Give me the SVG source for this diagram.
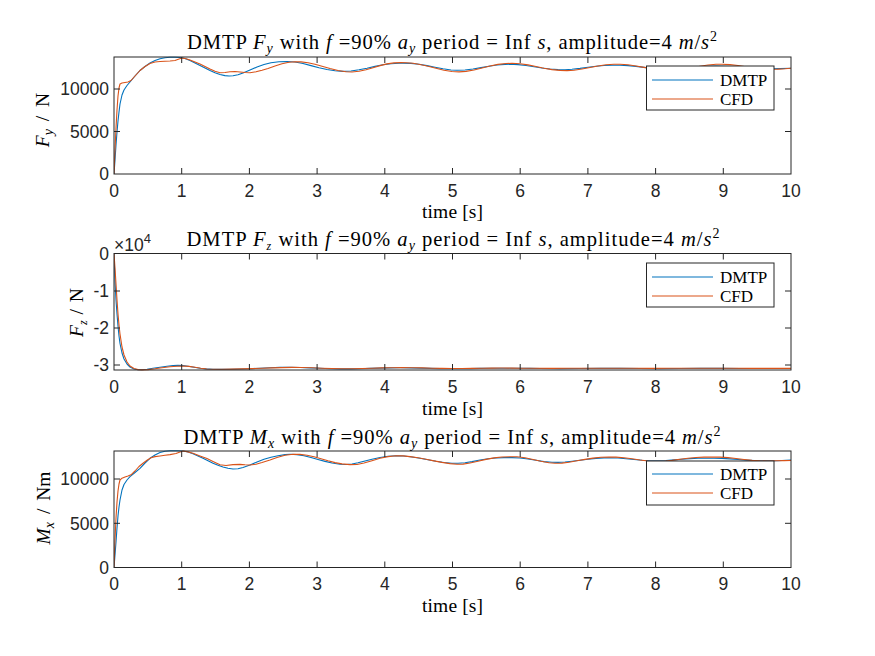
<svg xmlns="http://www.w3.org/2000/svg" width="875" height="656" viewBox="0 0 875 656">
<style>
.bg{fill:#ffffff}
.box{fill:none;stroke:#262626;stroke-width:1}
.tk{stroke:#262626;stroke-width:1;fill:none}
.tl{font-family:"Liberation Sans",Arial,sans-serif;font-size:17.5px;fill:#262626}
.tx{text-anchor:middle}
.ty{text-anchor:end}
.ser{font-family:"Liberation Serif","Times New Roman",serif;fill:#000000}
.title{font-size:20.6px}
.lab{font-size:19.5px}
.leg{font-size:17px}
.it{font-style:italic}
.sub{font-size:14px;font-style:italic}
.sup{font-size:14px}
.blue{fill:none;stroke:#0072BD;stroke-width:1.1;stroke-linejoin:round}
.orange{fill:none;stroke:#D95319;stroke-width:1.1;stroke-linejoin:round}
.lbox{fill:#ffffff;stroke:#262626;stroke-width:1}
</style>
<defs>
<clipPath id="c1"><rect x="114" y="56" width="677" height="119"/></clipPath>
<clipPath id="c2"><rect x="114" y="253" width="677" height="118"/></clipPath>
<clipPath id="c3"><rect x="114" y="450" width="677" height="118"/></clipPath>
</defs>
<rect class="bg" x="0" y="0" width="875" height="656"/>

<g id="axes1">
<rect x="114" y="57" width="677" height="117" fill="#ffffff"/>
<g clip-path="url(#c1)">
<polyline class="blue" points="114,174 115,160 116,145 117,132 118,121 119,112 120,104 122,95 124,90 127,85.5 130,82 135,76 140,70.5 145,66.5 150,63 155,60.5 160,58.8 165,57.8 170,57.3 175,57.2 180,57.5 185,58.5 190,60.5 195,63 200,65.5 205,68 210,70.5 215,72.8 220,74.5 225,75.6 229,76 233,75.7 238,74.7 243,73 250,70 257,67 264,64.5 271,62.8 279,61.8 287,61.5 295,62 303,63.5 311,65.6 319,67.7 327,69.5 335,70.8 343,71.4 351,71 359,69.8 367,68.2 375,66.4 383,64.8 391,63.7 399,63.2 403,63.1 411,63.4 419,64.3 427,65.6 435,67.2 443,68.8 451,70 457,70.3 465,70 473,69 481,67.6 489,66.2 497,65 505,64.4 510,64.3 518,64.6 526,65.5 534,66.8 542,68 550,69 558,69.6 565,69.7 572,69.3 580,68.4 588,67.3 596,66.2 604,65.5 612,65.2 620,65.2 628,65.6 636,66.4 644,67.4 652,68.3 660,68.9 668,69.1 676,68.9 684,68.3 692,67.5 700,66.8 708,66.3 716,66.1 724,66.2 732,66.6 740,67.2 748,67.8 756,68.3 764,68.6 772,68.7 780,68.6 791,68.3"/>
<polyline class="orange" points="114,174 115,150 116,128 117,110 118,96 119,88 120,84 122,83 125,82.5 128,82 131,80.5 135,76 140,70.5 145,66.5 150,63.5 155,62 160,61.5 165,61.2 170,61 175,60.5 179,59 182,58 186,58.8 190,60 195,62 200,64 205,66.5 210,69 215,71.2 220,72.7 225,72.5 230,71.8 235,71.5 240,72 245,72.5 250,72.7 256,71.8 262,70.3 268,68.5 275,66 282,63.8 289,62.2 295,61.7 301,61.9 308,62.8 315,64.3 322,66.2 330,68.5 338,70.5 346,71.8 352,72 359,71.3 366,69.7 373,67.7 380,65.6 387,63.9 394,62.9 401,62.6 406,62.7 413,63.3 420,64.5 428,66.3 436,68.3 444,70.2 452,71.5 459,71.9 466,71.4 474,70 482,68 490,66 498,64.4 506,63.5 512,63.3 520,63.7 528,64.9 536,66.5 544,68.2 552,69.6 560,70.4 567,70.6 574,70.2 582,69 590,67.5 598,66 606,64.8 614,64.2 620,64.2 628,64.8 636,66 644,67.4 652,68.8 660,69.8 668,70.2 676,70 684,69.1 692,67.8 700,66.3 708,65 716,64.3 722,64.2 730,64.6 738,65.5 746,66.7 754,67.9 762,68.8 770,69.2 778,69.1 785,68.7 791,68.2"/>
</g>
<rect class="box" x="114" y="57" width="677" height="117"/>
<path class="tk" d="M181.7,174v-6M249.4,174v-6M317.1,174v-6M384.8,174v-6M452.5,174v-6M520.2,174v-6M587.9,174v-6M655.6,174v-6M723.3,174v-6M181.7,57v6M249.4,57v6M317.1,57v6M384.8,57v6M452.5,57v6M520.2,57v6M587.9,57v6M655.6,57v6M723.3,57v6M114,131.5h6M114,89h6M791,131.5h-6M791,89h-6"/>
<g class="tl tx">
<text x="114" y="196.5">0</text><text x="181.7" y="196.5">1</text><text x="249.4" y="196.5">2</text><text x="317.1" y="196.5">3</text><text x="384.8" y="196.5">4</text><text x="452.5" y="196.5">5</text><text x="520.2" y="196.5">6</text><text x="587.9" y="196.5">7</text><text x="655.6" y="196.5">8</text><text x="723.3" y="196.5">9</text><text x="791" y="196.5">10</text>
</g>
<g class="tl ty">
<text x="109" y="180.3">0</text><text x="109" y="137.8">5000</text><text x="109" y="95.3">10000</text>
</g>
<text class="ser lab" x="452.5" y="218" text-anchor="middle" textLength="61" lengthAdjust="spacing">time [s]</text>
<text class="ser lab" transform="translate(49,120) rotate(-90)" text-anchor="middle"><tspan class="it">F</tspan><tspan class="sub" dy="4">y</tspan><tspan dy="-4" dx="3"> /</tspan><tspan dx="4"> N</tspan></text>
<text class="ser title" x="452" y="49" text-anchor="middle" textLength="530" lengthAdjust="spacing">DMTP <tspan class="it">F</tspan><tspan class="sub" dy="4">y</tspan><tspan dy="-4"> with </tspan><tspan class="it">f</tspan> =90% <tspan class="it">a</tspan><tspan class="sub" dy="4">y</tspan><tspan dy="-4"> period = Inf </tspan><tspan class="it">s</tspan>, amplitude=4 <tspan class="it">m</tspan>/<tspan class="it">s</tspan><tspan class="sup" dy="-8">2</tspan></text>
<g id="legend1">
<rect class="lbox" x="646.5" y="66" width="127.5" height="44"/>
<line class="blue" x1="652" y1="80" x2="713" y2="80"/>
<line class="orange" x1="652" y1="99" x2="713" y2="99"/>
<text class="ser leg" x="720" y="85.5">DMTP</text>
<text class="ser leg" x="720" y="104.5">CFD</text>
</g>
</g>

<g id="axes2">
<rect x="114" y="253.5" width="677" height="116.5" fill="#ffffff"/>
<g clip-path="url(#c2)">
<polyline class="blue" points="114,253.5 114.6,270 115.2,285 116,300 117,314 118,326 119,336 120,343.5 122,353 124,359 127,364 130,367 134,369 138,369.8 142,369.8 147,369.2 153,368.3 160,367.2 167,366.2 173,365.6 178,365.4 183,365.6 188,366.2 194,367.2 200,368.2 206,368.9 213,369.3 220,369.4 230,369.3 240,369 250,368.7 260,368.2 270,367.8 280,367.4 290,367.3 300,367.5 310,367.9 320,368.3 330,368.7 340,368.9 350,368.9 360,368.7 370,368.4 380,368.1 390,367.9 400,367.8 410,367.9 420,368.1 430,368.4 440,368.6 450,368.7 460,368.7 470,368.6 480,368.4 490,368.3 500,368.2 510,368.2 520,368.3 530,368.4 540,368.5 560,368.6 580,368.5 600,368.4 620,368.4 640,368.5 660,368.6 680,368.5 700,368.4 720,368.4 740,368.5 760,368.5 791,368.5"/>
<polyline class="orange" points="114,253.5 115,268 116,284 117,300 118,314 119,325 120,334 122,347 124,355 127,362 130,366 134,368.5 138,369.6 142,369.9 148,369.6 155,368.8 162,367.8 170,366.8 177,366.2 183,366 189,366.4 195,367.3 201,368.3 207,369 214,369.3 222,369.3 232,369.1 242,368.9 252,368.6 262,368.2 272,367.9 282,367.6 292,367.4 302,367.5 312,367.8 322,368.2 332,368.5 342,368.7 352,368.7 362,368.5 372,368.2 382,367.9 392,367.7 402,367.6 412,367.7 422,367.9 432,368.2 442,368.4 452,368.5 462,368.5 472,368.4 482,368.2 492,368.1 502,368 512,368.1 522,368.2 532,368.3 552,368.4 572,368.3 592,368.2 612,368.2 632,368.3 652,368.4 672,368.3 692,368.2 712,368.2 732,368.3 752,368.4 791,368.4"/>
</g>
<rect class="box" x="114" y="253.5" width="677" height="116.5"/>
<path class="tk" d="M181.7,370v-6M249.4,370v-6M317.1,370v-6M384.8,370v-6M452.5,370v-6M520.2,370v-6M587.9,370v-6M655.6,370v-6M723.3,370v-6M181.7,253.5v6M249.4,253.5v6M317.1,253.5v6M384.8,253.5v6M452.5,253.5v6M520.2,253.5v6M587.9,253.5v6M655.6,253.5v6M723.3,253.5v6M114,291h6M114,328h6M114,365h6M791,291h-6M791,328h-6M791,365h-6"/>
<g class="tl tx">
<text x="114" y="393">0</text><text x="181.7" y="393">1</text><text x="249.4" y="393">2</text><text x="317.1" y="393">3</text><text x="384.8" y="393">4</text><text x="452.5" y="393">5</text><text x="520.2" y="393">6</text><text x="587.9" y="393">7</text><text x="655.6" y="393">8</text><text x="723.3" y="393">9</text><text x="791" y="393">10</text>
</g>
<g class="tl ty">
<text x="109" y="260">0</text><text x="109" y="297.3">-1</text><text x="109" y="334.3">-2</text><text x="109" y="371.3">-3</text>
</g>
<text class="tl" x="114" y="251">×10<tspan font-size="13" dy="-8">4</tspan></text>
<text class="ser lab" x="452.5" y="414.5" text-anchor="middle" textLength="61" lengthAdjust="spacing">time [s]</text>
<text class="ser lab" transform="translate(83,312.5) rotate(-90)" text-anchor="middle"><tspan class="it">F</tspan><tspan class="sub" dy="4" style="font-size:12px">z</tspan><tspan dy="-4" dx="1"> /</tspan><tspan dx="2"> N</tspan></text>
<text class="ser title" x="453" y="246" text-anchor="middle" textLength="533" lengthAdjust="spacing">DMTP <tspan class="it">F</tspan><tspan class="sub" dy="4" style="font-size:12px">z</tspan><tspan dy="-4"> with </tspan><tspan class="it">f</tspan> =90% <tspan class="it">a</tspan><tspan class="sub" dy="4">y</tspan><tspan dy="-4"> period = Inf </tspan><tspan class="it">s</tspan>, amplitude=4 <tspan class="it">m</tspan>/<tspan class="it">s</tspan><tspan class="sup" dy="-8">2</tspan></text>
<g id="legend2">
<rect class="lbox" x="646.5" y="263" width="127.5" height="44"/>
<line class="blue" x1="652" y1="277" x2="713" y2="277"/>
<line class="orange" x1="652" y1="296" x2="713" y2="296"/>
<text class="ser leg" x="720" y="282.5">DMTP</text>
<text class="ser leg" x="720" y="301.5">CFD</text>
</g>
</g>

<g id="axes3">
<rect x="114" y="451" width="677" height="116.5" fill="#ffffff"/>
<g clip-path="url(#c3)">
<polyline class="blue" points="114,567.5 115,555 116,542 117,528 118,516 119,507 120,500 122,490 124,484.5 127,480 130,476.7 135,472.5 140,468.3 145,463 150,458.3 155,455 160,452.5 165,451.3 170,450.8 177,450.7 183,451 188,452 193,453.8 198,456 203,458.3 208,460.8 213,463.2 218,465.2 223,467 228,468.3 233,469 238,468.7 243,467.5 250,465 257,462 264,459.3 271,457.3 278,455.7 285,454.6 290,454.3 297,454.6 304,455.8 311,457.5 318,459.5 325,461.4 332,463 340,464.2 346,464.5 352,464 358,462.8 365,461 372,459.2 380,457.5 388,456.2 396,455.7 404,456 412,457 420,458.3 428,459.8 436,461.3 444,462.5 452,463.2 458,463.3 465,462.8 472,461.6 480,460 488,458.8 496,458 504,457.6 512,457.6 520,458 528,459 536,460.3 544,461.6 552,462.3 558,462.4 565,462 572,461.2 580,460.2 588,459.2 596,458.4 604,457.9 610,457.8 618,458 626,458.7 634,459.5 642,460.2 650,460.7 658,460.8 666,460.5 674,459.9 682,459.2 690,458.6 698,458.3 706,458.2 714,458.2 722,458.4 730,458.9 738,459.5 746,460.1 754,460.6 762,460.9 770,460.9 778,460.7 786,460.3 791,460"/>
<polyline class="orange" points="114,567.5 115,540 116,518 117,502 118,491 119,484 120,480 122,478.2 125,477 128,476 131,474.8 135,471 139,466.5 143,463.3 147,460.3 151,457.8 155,456.6 160,456 165,455.3 170,454.6 176,453.5 180,452 183,451 187,451.6 193,453.3 200,456 207,458.6 213,461.5 220,464.8 226,465.5 233,464.6 240,464.4 245,464.8 250,465 256,464.2 262,462.5 270,460 277,457.5 285,455.3 293,454.3 300,454.4 307,455.2 314,456.8 321,458.8 328,460.8 335,462.6 342,463.9 350,464.6 357,464.5 364,463 372,460.7 380,458.3 388,456.6 396,455.8 403,455.9 410,456.6 418,457.8 426,459.3 434,460.9 442,462.4 450,463.6 457,464.3 463,464.1 470,463 478,461.2 486,459.4 494,457.9 502,457 510,456.7 517,456.8 525,457.8 533,459.5 541,461.3 549,462.7 555,463.3 562,463.1 569,462.2 577,460.8 585,459.4 593,458.1 601,457.3 609,457 616,457.1 624,457.7 632,458.7 640,460 648,461 656,461.4 664,461.2 672,460.4 680,459.3 688,458.3 696,457.5 704,457.1 712,457 720,457.1 728,457.6 736,458.5 744,459.5 752,460.4 760,460.9 768,461 776,460.8 784,460.6 791,460.5"/>
</g>
<rect class="box" x="114" y="451" width="677" height="116.5"/>
<path class="tk" d="M181.7,567.5v-6M249.4,567.5v-6M317.1,567.5v-6M384.8,567.5v-6M452.5,567.5v-6M520.2,567.5v-6M587.9,567.5v-6M655.6,567.5v-6M723.3,567.5v-6M181.7,451v6M249.4,451v6M317.1,451v6M384.8,451v6M452.5,451v6M520.2,451v6M587.9,451v6M655.6,451v6M723.3,451v6M114,523.3h6M114,479h6M791,523.3h-6M791,479h-6"/>
<g class="tl tx">
<text x="114" y="590">0</text><text x="181.7" y="590">1</text><text x="249.4" y="590">2</text><text x="317.1" y="590">3</text><text x="384.8" y="590">4</text><text x="452.5" y="590">5</text><text x="520.2" y="590">6</text><text x="587.9" y="590">7</text><text x="655.6" y="590">8</text><text x="723.3" y="590">9</text><text x="791" y="590">10</text>
</g>
<g class="tl ty">
<text x="109" y="573.8">0</text><text x="109" y="529.6">5000</text><text x="109" y="485.3">10000</text>
</g>
<text class="ser lab" x="452.5" y="611.5" text-anchor="middle" textLength="61" lengthAdjust="spacing">time [s]</text>
<text class="ser lab" transform="translate(50,508) rotate(-90)" text-anchor="middle"><tspan class="it">M</tspan><tspan class="sub" dy="4">x</tspan><tspan dy="-4" dx="3"> /</tspan><tspan dx="3"> Nm</tspan></text>
<text class="ser title" x="452" y="444" text-anchor="middle" textLength="537" lengthAdjust="spacing">DMTP <tspan class="it">M</tspan><tspan class="sub" dy="4">x</tspan><tspan dy="-4"> with </tspan><tspan class="it">f</tspan> =90% <tspan class="it">a</tspan><tspan class="sub" dy="4">y</tspan><tspan dy="-4"> period = Inf </tspan><tspan class="it">s</tspan>, amplitude=4 <tspan class="it">m</tspan>/<tspan class="it">s</tspan><tspan class="sup" dy="-8">2</tspan></text>
<g id="legend3">
<rect class="lbox" x="646.5" y="461" width="127.5" height="44"/>
<line class="blue" x1="652" y1="474" x2="713" y2="474"/>
<line class="orange" x1="652" y1="493" x2="713" y2="493"/>
<text class="ser leg" x="720" y="479.5">DMTP</text>
<text class="ser leg" x="720" y="498.5">CFD</text>
</g>
</g>
</svg>
